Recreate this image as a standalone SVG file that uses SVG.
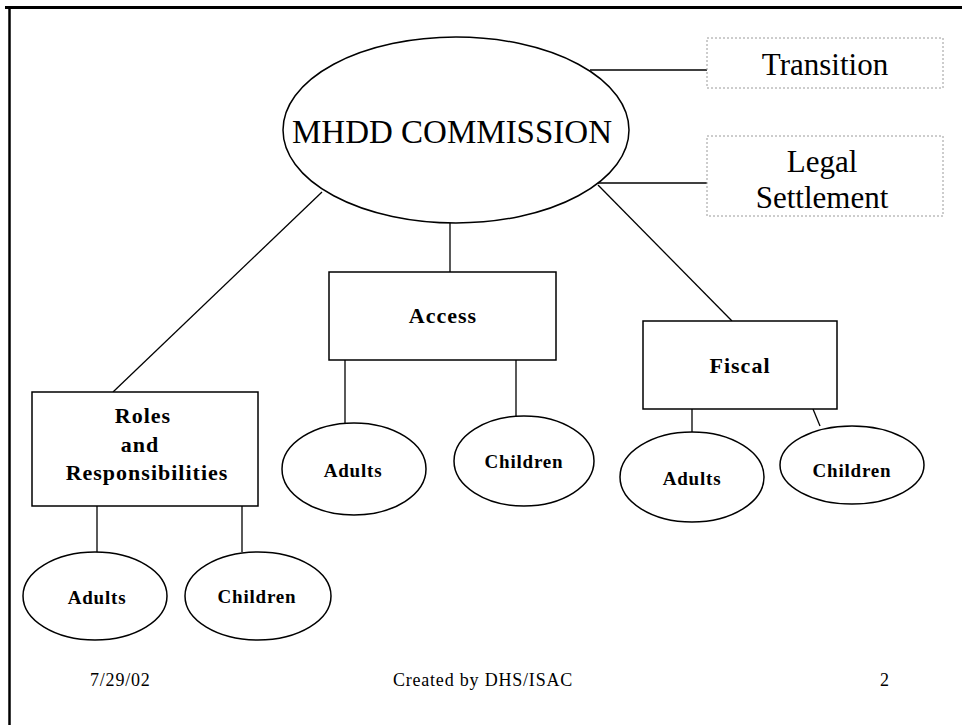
<svg xmlns="http://www.w3.org/2000/svg" width="962" height="725" viewBox="0 0 962 725">
<style>
.shape{fill:#fff;stroke:#000;stroke-width:1.5}
.dash{fill:#fff;stroke:#9a9a9a;stroke-width:1;stroke-dasharray:2 2}
.conn line{stroke:#000;stroke-width:1.3}
.big{font-family:"Liberation Serif","Times New Roman",serif;font-size:31px;text-anchor:middle;fill:#000}
.title{font-size:33px}
.lbl{font-family:"Liberation Serif","Times New Roman",serif;font-size:22px;font-weight:bold;letter-spacing:1px;text-anchor:middle;fill:#000}
.sm{font-family:"Liberation Serif","Times New Roman",serif;font-size:19px;font-weight:bold;letter-spacing:0.8px;text-anchor:middle;fill:#000}
.foot{font-family:"Liberation Serif","Times New Roman",serif;font-size:18px;letter-spacing:0.8px;fill:#000}
</style>
<rect width="962" height="725" fill="#fff"/>
<g id="frame">
<line x1="5" y1="7.5" x2="962" y2="7.5" stroke="#000" stroke-width="3"/>
<line x1="9.5" y1="6" x2="9.5" y2="725" stroke="#000" stroke-width="2.5"/>
</g>
<g class="conn" id="connectors">
<line x1="590" y1="70" x2="707" y2="70"/>
<line x1="597" y1="183" x2="707" y2="183"/>
<line x1="322" y1="192" x2="113" y2="392"/>
<line x1="450" y1="223" x2="450" y2="272"/>
<line x1="598" y1="185" x2="732" y2="321"/>
<line x1="97" y1="506" x2="97" y2="552"/>
<line x1="242" y1="506" x2="242" y2="552"/>
<line x1="345" y1="360" x2="345" y2="423"/>
<line x1="516" y1="360" x2="516" y2="416"/>
<line x1="692" y1="409" x2="692" y2="433"/>
<line x1="813" y1="409" x2="820" y2="426"/>
</g>
<g id="commission">
<ellipse class="shape" cx="456" cy="130" rx="173" ry="93"/>
<text class="big title" x="452" y="143">MHDD COMMISSION</text>
</g>
<g id="transition">
<rect class="dash" x="707" y="38" width="236" height="50"/>
<text class="big" x="825" y="75">Transition</text>
</g>
<g id="legal">
<rect class="dash" x="707" y="136" width="236" height="80"/>
<text class="big" x="822" y="172">Legal</text>
<text class="big" x="822" y="208">Settlement</text>
</g>
<g id="roles">
<rect class="shape" x="32" y="392" width="226" height="114"/>
<text class="lbl" x="143" y="423">Roles</text>
<text class="lbl" x="140" y="452">and</text>
<text class="lbl" x="147" y="480">Responsibilities</text>
</g>
<g id="access">
<rect class="shape" x="329" y="272" width="227" height="88"/>
<text class="lbl" x="443" y="323">Access</text>
</g>
<g id="fiscal">
<rect class="shape" x="643" y="321" width="194" height="88"/>
<text class="lbl" x="740" y="373">Fiscal</text>
</g>
<g id="roles-adults">
<ellipse class="shape" cx="95" cy="596" rx="72" ry="44"/>
<text class="sm" x="97" y="604">Adults</text>
</g>
<g id="roles-children">
<ellipse class="shape" cx="258" cy="596" rx="73" ry="44"/>
<text class="sm" x="257" y="603">Children</text>
</g>
<g id="access-adults">
<ellipse class="shape" cx="354" cy="469" rx="72" ry="46"/>
<text class="sm" x="353" y="477">Adults</text>
</g>
<g id="access-children">
<ellipse class="shape" cx="524" cy="461" rx="70" ry="45"/>
<text class="sm" x="524" y="468">Children</text>
</g>
<g id="fiscal-adults">
<ellipse class="shape" cx="692" cy="477" rx="72" ry="45"/>
<text class="sm" x="692" y="485">Adults</text>
</g>
<g id="fiscal-children">
<ellipse class="shape" cx="852" cy="465" rx="72" ry="39"/>
<text class="sm" x="852" y="477">Children</text>
</g>
<g id="footer">
<text class="foot" x="90" y="686">7/29/02</text>
<text class="foot" x="483" y="686" text-anchor="middle">Created by DHS/ISAC</text>
<text class="foot" x="880" y="686">2</text>
</g>
</svg>
